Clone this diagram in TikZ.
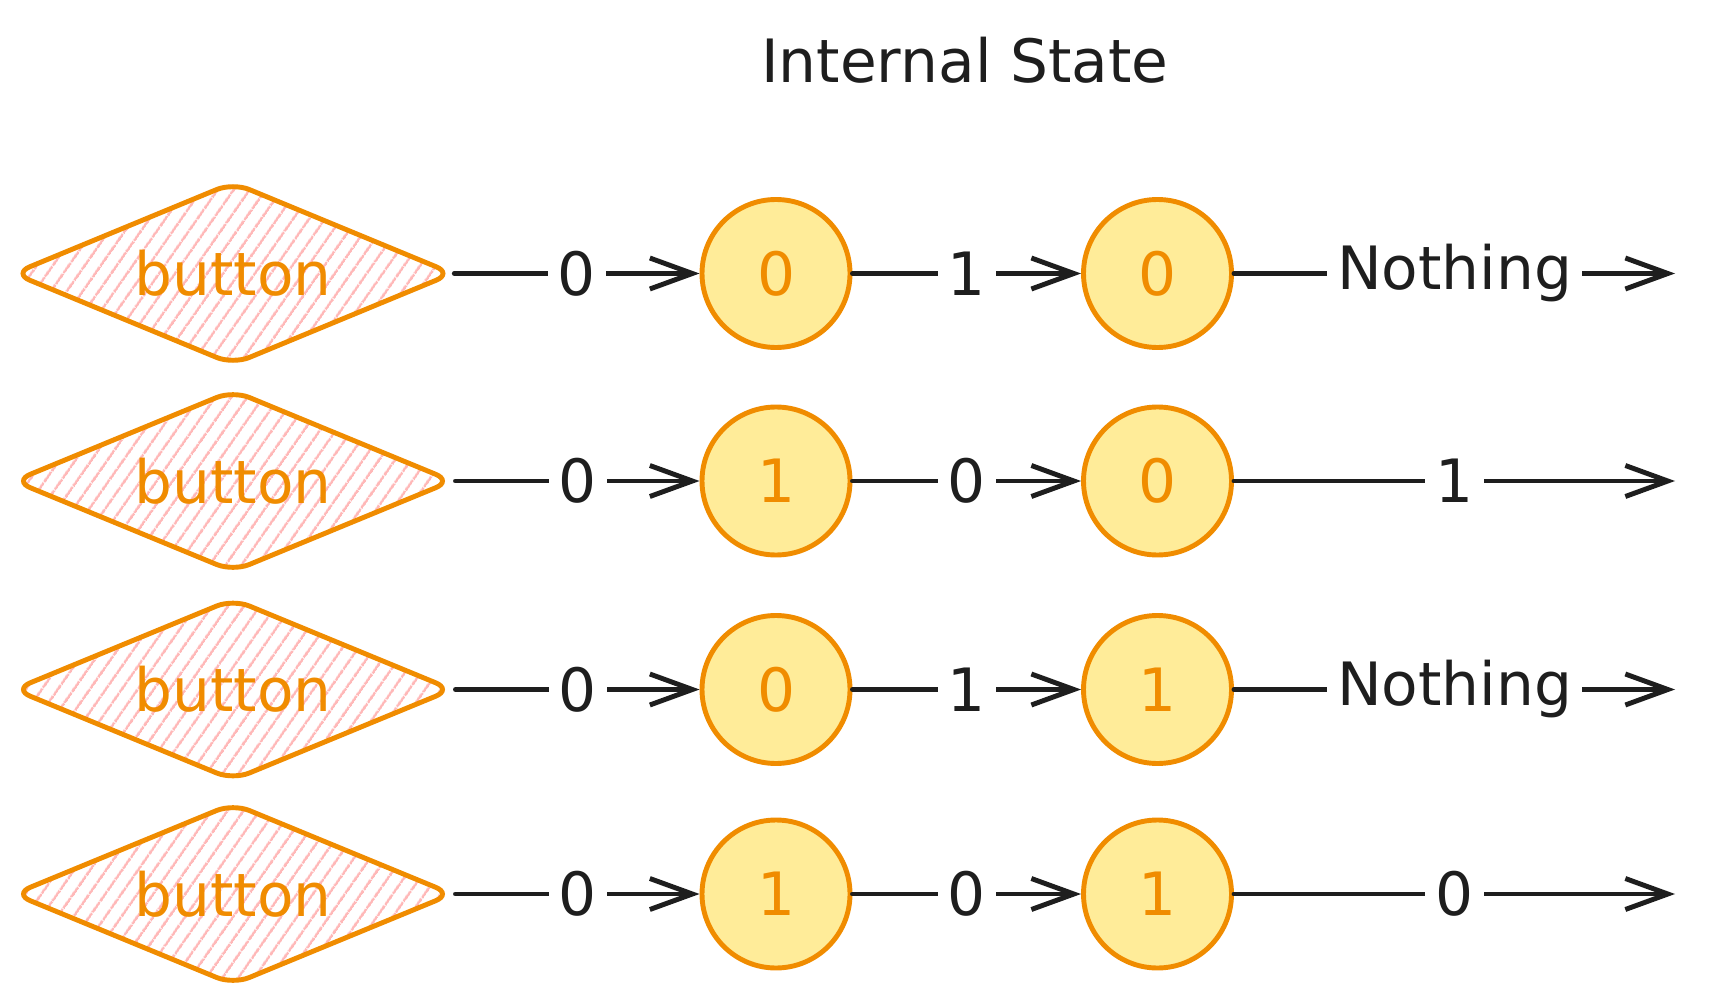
\documentclass[tikz,border=0pt]{standalone}
\usepackage{fontspec}
\setmainfont{DejaVu Sans}
\usetikzlibrary{arrows.meta, positioning, shapes.geometric, patterns.meta}
\definecolor{xorange}{HTML}{F08C00}
\definecolor{xyellow}{HTML}{FFEC99}
\definecolor{xpink}{HTML}{FFB8B8}
\definecolor{xink}{HTML}{1E1E1E}
\tikzset{
  btn/.style={diamond, aspect=2.4, draw=xorange, line width=2.8pt, rounded corners=0.35cm,
    minimum width=8.8cm, minimum height=3.65cm, inner sep=0pt, text=xorange,
    pattern={Lines[angle=55, distance=7.4pt, line width=1.5pt]}, pattern color=xpink},
  state/.style={circle, draw=xorange, fill=xyellow, line width=2.8pt, minimum size=2.96cm,
    inner sep=0pt, text=xorange},
  flow/.style={draw=xink, line width=2.8pt, line cap=round,
    -{Straight Barb[length=0.85cm, width=0.62cm]}},
  lbl/.style={fill=white, inner xsep=0.2cm, inner ysep=0.1cm, text=xink},
  head/.style={text=xink}
}
\begin{document}
\begin{tikzpicture}[every node/.style={font=\fontsize{34}{40}\selectfont}]
    \useasboundingbox (0,0) rectangle (34.5,-20.04);
    \node[head] (title) at (19.3,-1.2) {Internal State};
    % one row per button press
    \foreach \r/\y/\p/\q/\m/\o in {1/-5.47/0/0/1/Nothing, 2/-9.62/1/0/0/1,
        3/-13.79/0/1/1/Nothing, 4/-17.88/1/1/0/0}{
        \node[btn] (b\r) at (4.66,\y) {button};
        \node[state] (s\r) at (15.52,\y) {\p};
        \node[state] (t\r) at (23.15,\y) {\q};
        \coordinate (e\r) at (33.5,\y);
        \draw[flow] (b\r) -- node[lbl]{0} (s\r);
        \draw[flow] (s\r) -- node[lbl]{\m} (t\r);
        \draw[flow] (t\r) -- node[lbl]{\o} (e\r);
    }
\end{tikzpicture}
\end{document}
